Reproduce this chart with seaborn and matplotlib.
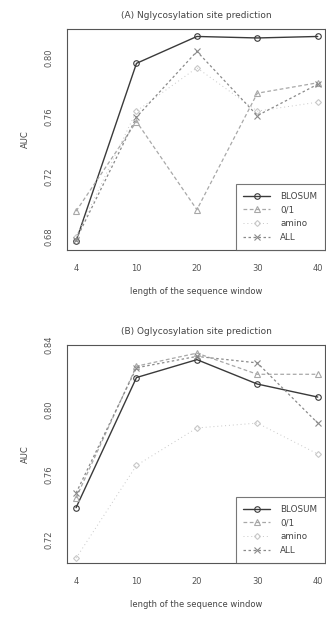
import pandas as pd
import matplotlib
matplotlib.use("Agg")
import matplotlib.pyplot as plt
import seaborn as sns

windows = ["4", "10", "20", "30", "40"]
series_names = ["BLOSUM", "0/1", "amino", "ALL"]

# (A) N-glycosylation
n_blosum = [0.677, 0.796, 0.814, 0.813, 0.814]
n_binary = [0.697, 0.757, 0.698, 0.776, 0.783]
n_amino = [0.680, 0.764, 0.793, 0.764, 0.770]
n_all = [0.678, 0.760, 0.804, 0.761, 0.782]

# (B) O-glycosylation
o_blosum = [0.740, 0.820, 0.831, 0.816, 0.808]
o_binary = [0.746, 0.827, 0.835, 0.822, 0.822]
o_amino = [0.709, 0.766, 0.789, 0.792, 0.773]
o_all = [0.749, 0.826, 0.833, 0.829, 0.792]

styles = {
    "BLOSUM": dict(color="#3a3a3a", marker="o", ls="-", lw=1.0, ms=4),
    "0/1": dict(color="#a8a8a8", marker="^", ls=(0, (3, 2)), lw=0.9, ms=4),
    "amino": dict(color="#c8c8c8", marker="D", ls=(0, (1, 3)), lw=0.7, ms=3),
    "ALL": dict(color="#8a8a8a", marker="x", ls=(0, (2, 2)), lw=0.9, ms=4),
}


def make_frame(values):
    rows = []
    for name, vals in zip(series_names, values):
        for i, (w, v) in enumerate(zip(windows, vals)):
            rows.append({"pos": i, "window": w, "series": name, "AUC": v})
    return pd.DataFrame(rows)


def draw_panel(ax, data, title, ylim, major, minor):
    for name in series_names:
        sub = data[data["series"] == name]
        st = styles[name]
        sns.lineplot(data=sub, x="pos", y="AUC", ax=ax, color=st["color"],
                     marker=st["marker"], linestyle=st["ls"], linewidth=st["lw"],
                     markersize=st["ms"], markerfacecolor="none",
                     markeredgecolor=st["color"], markeredgewidth=0.8,
                     label=name, errorbar=None)
    ax.set_xlim(-0.15, 4.12)
    ax.set_ylim(*ylim)
    ax.set_xticks(range(len(windows)))
    ax.set_xticklabels(windows)
    ax.set_yticks(minor)
    ax.set_yticklabels([f"{t:.2f}" if t in major else "" for t in minor],
                       rotation=90, va="center")
    ax.tick_params(axis="both", direction="out", length=4, width=0.7,
                   labelsize=6, colors="#555555", pad=6)
    ax.set_title(title, fontsize=6.5, color="#444444", pad=8)
    ax.set_xlabel("length of the sequence window", fontsize=6, color="#444444",
                  labelpad=10)
    ax.set_ylabel("AUC", fontsize=6, color="#444444", labelpad=10)
    for sp in ax.spines.values():
        sp.set_visible(True)
        sp.set_color("#555555")
        sp.set_linewidth(0.8)
    leg = ax.legend(loc="lower right", fontsize=6.3, frameon=True, fancybox=False,
                    edgecolor="#555555", borderpad=0.9, handlelength=3.0,
                    labelspacing=0.55, handletextpad=1.2, borderaxespad=0.0)
    leg.get_frame().set_linewidth(0.8)
    for t in leg.get_texts():
        t.set_color("#444444")


sns.set_theme(style="white")
plt.rcParams['font.family'] = ['DejaVu Sans']

fig = plt.figure(figsize=(3.26, 6.24), dpi=100)
ax1 = fig.add_axes([67 / 326, 1 - 250 / 624, 258 / 326, 221 / 624])
ax2 = fig.add_axes([67 / 326, 1 - 563 / 624, 258 / 326, 218 / 624])

dfa = make_frame([n_blosum, n_binary, n_amino, n_all])
dfb = make_frame([o_blosum, o_binary, o_amino, o_all])

draw_panel(ax1, dfa, "(A) Nglycosylation site prediction", (0.671, 0.819),
           [0.68, 0.72, 0.76, 0.80], [0.68, 0.70, 0.72, 0.74, 0.76, 0.78, 0.80])
draw_panel(ax2, dfb, "(B) Oglycosylation site prediction", (0.706, 0.840),
           [0.72, 0.76, 0.80, 0.84], [0.72, 0.74, 0.76, 0.78, 0.80, 0.82, 0.84])

fig.savefig("out.png", dpi=100)
